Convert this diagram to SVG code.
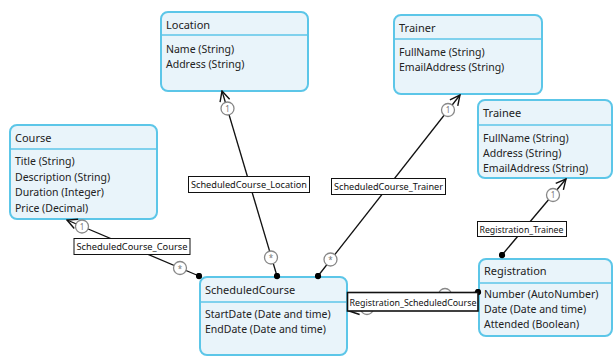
<svg xmlns="http://www.w3.org/2000/svg" width="615" height="356" viewBox="0 0 615 356">
<style>
.box{fill:#e9f4fa;stroke:#5cc6e8;stroke-width:2}
.sep{stroke:#5cc6e8;stroke-width:1.6}
.title{font-family:"Noto Sans","Open Sans",sans-serif;font-size:11px;fill:#222}
.attr{font-family:"Noto Sans","Open Sans",sans-serif;font-size:10.5px;fill:#222}
.conn{fill:none;stroke:#111;stroke-width:1.3}
.lbl{fill:#fff;stroke:#111;stroke-width:1}
.lbltxt{font-family:"Noto Sans","Open Sans",sans-serif;font-size:9.8px;fill:#111}
.mult{fill:#fff;stroke:#888;stroke-width:1.3}
.multtxt{font-family:"Noto Sans",sans-serif;font-size:8px;fill:#777;text-anchor:middle}
</style>
<defs>
<marker id="arrow" viewBox="0 0 12 12" refX="11" refY="6" markerWidth="12" markerHeight="12" markerUnits="userSpaceOnUse" orient="auto">
<path d="M1,1 L11,6 L1,11" fill="none" stroke="#111" stroke-width="1.4"/>
</marker>
<marker id="dot" viewBox="0 0 8 8" refX="4" refY="4" markerWidth="7" markerHeight="7" markerUnits="userSpaceOnUse">
<circle cx="4" cy="4" r="3.6" fill="#000"/>
</marker>
</defs>

<g id="node-course">
<rect class="box" x="10" y="125" width="147" height="94" rx="7"/>
<line class="sep" x1="10" y1="149" x2="157" y2="149"/>
<text class="title" x="15" y="142">Course</text>
<text class="attr" x="15" y="165">Title (String)</text>
<text class="attr" x="15" y="180.5">Description (String)</text>
<text class="attr" x="15" y="196">Duration (Integer)</text>
<text class="attr" x="15" y="211.5">Price (Decimal)</text>
</g>

<g id="node-location">
<rect class="box" x="161" y="12" width="147" height="79" rx="7"/>
<line class="sep" x1="161" y1="35" x2="308" y2="35"/>
<text class="title" x="166" y="29">Location</text>
<text class="attr" x="166" y="53">Name (String)</text>
<text class="attr" x="166" y="68">Address (String)</text>
</g>

<g id="node-trainer">
<rect class="box" x="394" y="15" width="148" height="79" rx="7"/>
<line class="sep" x1="394" y1="39" x2="542" y2="39"/>
<text class="title" x="399" y="32">Trainer</text>
<text class="attr" x="399" y="56">FullName (String)</text>
<text class="attr" x="399" y="71">EmailAddress (String)</text>
</g>

<g id="node-trainee">
<rect class="box" x="478" y="100" width="134" height="78" rx="7"/>
<line class="sep" x1="478" y1="125" x2="612" y2="125"/>
<text class="title" x="483" y="117">Trainee</text>
<text class="attr" x="483" y="142">FullName (String)</text>
<text class="attr" x="483" y="157">Address (String)</text>
<text class="attr" x="483" y="172">EmailAddress (String)</text>
</g>

<g id="node-scheduledcourse">
<rect class="box" x="200" y="277" width="147" height="78" rx="7"/>
<line class="sep" x1="200" y1="302" x2="347" y2="302"/>
<text class="title" x="205" y="294">ScheduledCourse</text>
<text class="attr" x="205" y="318">StartDate (Date and time)</text>
<text class="attr" x="205" y="333">EndDate (Date and time)</text>
</g>

<g id="node-registration">
<rect class="box" x="479" y="259" width="133" height="77" rx="7"/>
<line class="sep" x1="479" y1="283" x2="612" y2="283"/>
<text class="title" x="484" y="275">Registration</text>
<text class="attr" x="484" y="298">Number (AutoNumber)</text>
<text class="attr" x="484" y="313">Date (Date and time)</text>
<text class="attr" x="484" y="328">Attended (Boolean)</text>
</g>

<g id="connectors">
<g id="conn-course">
<path class="conn" d="M199,276 L67,220" marker-start="url(#dot)" marker-end="url(#arrow)"/>
<circle class="mult" cx="82" cy="226.5" r="6.5"/>
<text class="multtxt" x="82" y="229.5">1</text>
<circle class="mult" cx="180" cy="268" r="6.5"/>
<text class="multtxt" x="180" y="271.5">*</text>
<rect class="lbl" x="74" y="238.5" width="116" height="16"/>
<text class="lbltxt" x="76.5" y="250" textLength="111" lengthAdjust="spacingAndGlyphs">ScheduledCourse_Course</text>
</g>
<g id="conn-location">
<path class="conn" d="M277,276 L222,91" marker-start="url(#dot)" marker-end="url(#arrow)"/>
<circle class="mult" cx="227.5" cy="108.5" r="6.5"/>
<text class="multtxt" x="227.5" y="111.5">1</text>
<circle class="mult" cx="271" cy="257.5" r="6.5"/>
<text class="multtxt" x="271" y="261">*</text>
<rect class="lbl" x="188.5" y="176.5" width="121" height="16"/>
<text class="lbltxt" x="191" y="188" textLength="116" lengthAdjust="spacingAndGlyphs">ScheduledCourse_Location</text>
</g>
<g id="conn-trainer">
<path class="conn" d="M318,276 L460,95" marker-start="url(#dot)" marker-end="url(#arrow)"/>
<circle class="mult" cx="448" cy="110" r="6.5"/>
<text class="multtxt" x="448" y="113">1</text>
<circle class="mult" cx="330.5" cy="259.5" r="6.5"/>
<text class="multtxt" x="330.5" y="263">*</text>
<rect class="lbl" x="331.5" y="178.5" width="114" height="16"/>
<text class="lbltxt" x="334" y="190" textLength="109" lengthAdjust="spacingAndGlyphs">ScheduledCourse_Trainer</text>
</g>
<g id="conn-trainee">
<path class="conn" d="M502,255 L566,179" marker-start="url(#dot)" marker-end="url(#arrow)"/>
<circle class="mult" cx="553" cy="195" r="6.5"/>
<text class="multtxt" x="553" y="198">1</text>
<rect class="lbl" x="477.5" y="221.5" width="89" height="15"/>
<text class="lbltxt" x="479.5" y="232.5" textLength="84" lengthAdjust="spacingAndGlyphs">Registration_Trainee</text>
</g>
<g id="conn-registration-scheduled">
<path class="conn" d="M478,292 L349,311" marker-start="url(#dot)" marker-end="url(#arrow)"/>
<circle class="mult" cx="445" cy="295" r="6.5"/>
<circle class="mult" cx="367" cy="308" r="6.5"/>
<rect x="347.5" y="292.5" width="130.5" height="18.5" fill="#fff" stroke="#111" stroke-width="1.6"/>
<text class="lbltxt" x="349.5" y="305.5" textLength="127" lengthAdjust="spacingAndGlyphs">Registration_ScheduledCourse</text>
</g>
</g>
</svg>
